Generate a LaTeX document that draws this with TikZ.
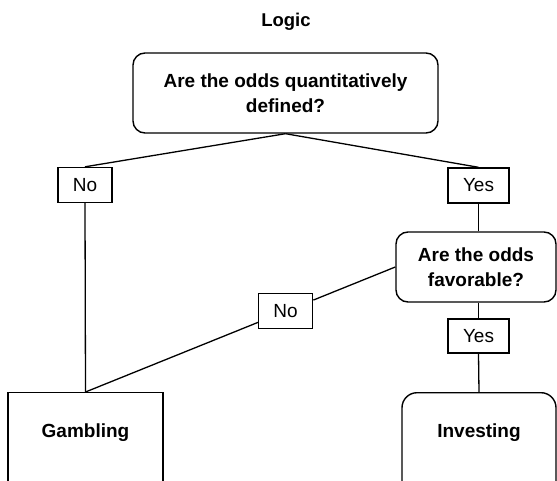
\documentclass[tikz,border=0pt]{standalone}
\usepackage{fontspec}
\setmainfont{Liberation Sans}
\begin{document}
\begin{tikzpicture}[x=1pt,y=-1pt,
  every node/.style={font=\fontsize{19}{24}\selectfont, inner sep=0pt},
  qbox/.style={draw, line width=1.4pt, rounded corners=12pt, align=center, font=\fontsize{19}{24.5}\selectfont\bfseries},
  lbl/.style={draw, line width=1.4pt, fill=white, minimum width=54pt, minimum height=35pt},
  endbox/.style={draw, line width=1.4pt, minimum width=155pt, minimum height=150pt, anchor=north},
  bold/.style={font=\fontsize{19}{24}\selectfont\bfseries},
  conn/.style={line width=1.3pt}
]
\useasboundingbox (0,0) rectangle (557,481);
\clip (0,0) rectangle (557,481);
\fill[white] (0,0) rectangle (557,481);

\node[bold, anchor=base, font=\fontsize{18.5}{24}\selectfont\bfseries] (title) at (286,27) {Logic};

\node[qbox, minimum width=305pt, minimum height=80pt] (top) at (285.5,93) {Are the odds quantitatively\\defined?};
\node[lbl] (no1) at (85,185) {No};
\node[lbl, minimum width=61pt] (yes1) at (478.5,185.5) {Yes};
\node[qbox, minimum width=160pt, minimum height=70pt] (fav) at (476,267) {Are the odds\\favorable?};
\node[lbl, minimum width=61pt, minimum height=34pt] (yes2) at (478.5,336) {Yes};

\node[endbox] (gamb) at (85.5,392) {};
\node[endbox, rounded corners=15pt, minimum width=154pt] (inv) at (479,392) {};
\node[bold, anchor=base] (gambtext) at (85.5,437) {Gambling};
\node[bold, anchor=base] (invtext) at (479,437) {Investing};

\path (fav.west) -- (gamb.north) node[lbl, pos=0.354] (no2) {No};

\draw[conn] (top.south) -- (no1.north);
\draw[conn] (top.south) -- (yes1.north);
\draw[conn] (yes1.south) -- (yes1.south |- fav.north);
\draw[conn] (no1.south) -- (gamb.north);
\draw[conn] (fav.west) -- (no2);
\draw[conn] (no2) -- (gamb.north);
\draw[conn] (yes2.north |- fav.south) -- (yes2.north);
\draw[conn] (yes2.south) -- (inv.north);
\end{tikzpicture}
\end{document}
